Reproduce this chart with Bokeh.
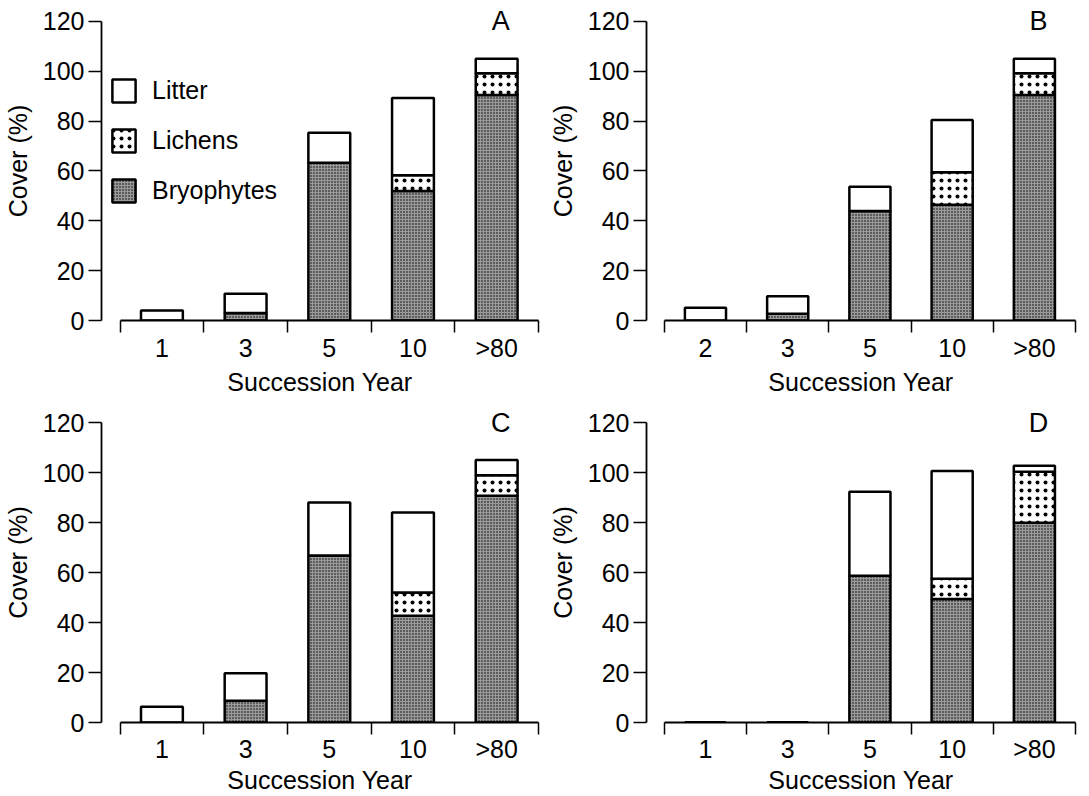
from bokeh.plotting import figure
from bokeh.layouts import gridplot
from bokeh.models import (FixedTicker, Range1d, Label, Legend, LegendItem,
                          ColumnDataSource)
from bokeh.embed import file_html
from bokeh.resources import INLINE

# ---------------- data ----------------
series = ["Bryophytes", "Lichens", "Litter"]

years_A = ["1", "3", "5", "10", ">80"]
bryo_A = [0, 3.0, 63.3, 52.0, 90.5]
lich_A = [0, 0, 0, 6.3, 8.7]
litter_A = [4.0, 7.7, 12.0, 31.0, 5.8]

years_B = ["2", "3", "5", "10", ">80"]
bryo_B = [0, 2.7, 43.9, 46.4, 90.5]
lich_B = [0, 0, 0, 13.1, 8.7]
litter_B = [5.1, 7.0, 9.8, 21.0, 5.8]

years_C = ["1", "3", "5", "10", ">80"]
bryo_C = [0, 8.7, 66.8, 42.7, 90.7]
lich_C = [0, 0, 0, 9.3, 8.2]
litter_C = [6.3, 11.0, 21.2, 32.0, 6.1]

years_D = ["1", "3", "5", "10", ">80"]
bryo_D = [0, 0, 58.7, 49.4, 79.9]
lich_D = [0, 0, 0, 8.1, 20.4]
litter_D = [0, 0, 33.6, 43.1, 2.4]

y_ticks = [0, 20, 40, 60, 80, 100, 120]

FONT = "Liberation Sans"
FS = "25px"


def make_panel(cats, bryo, lich, litter, letter, fig_w, fig_h, b_left,
               b_right, b_top, b_bottom, x_start, y_end, lab_so, axlab_so,
               show_legend=False):
    n = len(cats)
    xs = [i + 0.5 for i in range(n)]
    src = ColumnDataSource(dict(x=xs, Bryophytes=bryo, Lichens=lich,
                                Litter=litter))
    p = figure(width=fig_w, height=fig_h, output_backend="svg",
               toolbar_location=None, title=None,
               x_range=Range1d(x_start, n), y_range=Range1d(0, y_end),
               min_border_left=b_left, min_border_right=b_right,
               min_border_top=b_top, min_border_bottom=b_bottom)
    p.outline_line_color = None
    p.grid.visible = False
    p.background_fill_color = "white"
    p.border_fill_color = "white"

    rs = p.vbar_stack(series, x="x", width=0.5, source=src,
                      fill_color=["#9a9a9a", "white", "white"],
                      hatch_pattern=["dot", "dot", None],
                      hatch_scale=[3, 8, 12],
                      hatch_weight=[1.0, 0.8, 1],
                      hatch_color="black",
                      line_color="black", line_width=2.5)

    xa = p.xaxis[0]
    xa.ticker = FixedTicker(ticks=xs, minor_ticks=list(range(n + 1)))
    xa.major_label_overrides = {x: c for x, c in zip(xs, cats)}
    xa.bounds = (0, n)
    xa.major_tick_in = 0
    xa.major_tick_out = 0
    xa.minor_tick_in = 0
    xa.minor_tick_out = 12
    xa.minor_tick_line_color = "black"
    xa.minor_tick_line_width = 1.5
    xa.axis_line_width = 1.8
    xa.axis_line_color = "black"
    xa.axis_label = "Succession Year"
    xa.major_label_standoff = lab_so
    xa.axis_label_standoff = axlab_so

    ya = p.yaxis[0]
    ya.ticker = FixedTicker(ticks=y_ticks)
    ya.bounds = (0, 120)
    ya.major_tick_in = 0
    ya.major_tick_out = 13
    ya.major_tick_line_width = 1.5
    ya.major_tick_line_color = "black"
    ya.axis_line_width = 1.8
    ya.axis_line_color = "black"
    ya.axis_label = "Cover (%)"
    ya.major_label_standoff = 4
    ya.axis_label_standoff = 8

    for ax in (xa, ya):
        ax.major_label_text_font = FONT
        ax.major_label_text_font_size = FS
        ax.major_label_text_color = "black"
        ax.axis_label_text_font = FONT
        ax.axis_label_text_font_size = FS
        ax.axis_label_text_font_style = "normal"
        ax.axis_label_text_color = "black"

    p.add_layout(Label(x=4.55, y=120, text=letter, text_align="center",
                       text_baseline="middle", text_font=FONT,
                       text_font_size="27px", text_color="black"))

    if show_legend:
        legend = Legend(items=[LegendItem(label="Litter", renderers=[rs[2]]),
                               LegendItem(label="Lichens", renderers=[rs[1]]),
                               LegendItem(label="Bryophytes", renderers=[rs[0]])],
                        location=(8, 115), orientation="vertical",
                        glyph_width=29, glyph_height=29, label_height=29,
                        label_standoff=14, spacing=21, padding=0, margin=0,
                        border_line_color=None, background_fill_alpha=0,
                        label_text_font=FONT, label_text_font_size=FS,
                        label_text_color="black")
        p.add_layout(legend)
    return p


pA = make_panel(years_A, bryo_A, lich_A, litter_A, "A", 545, 398,
                98, 7, 1, 78, -0.222, 128, 1, 3, show_legend=True)
pB = make_panel(years_B, bryo_B, lich_B, litter_B, "B", 544, 398,
                98, 14, 1, 78, -0.217, 128, 1, 3)
pC = make_panel(years_C, bryo_C, lich_C, litter_C, "C", 545, 398,
                99, 7, 4, 74, -0.222, 128, 0, 0)
pD = make_panel(years_D, bryo_D, lich_D, litter_D, "D", 544, 398,
                98, 14, 4, 74, -0.217, 128, 0, 0)

grid = gridplot([[pA, pB], [pC, pD]], toolbar_location=None)

open("out.html", "w").write(file_html(grid, INLINE))
